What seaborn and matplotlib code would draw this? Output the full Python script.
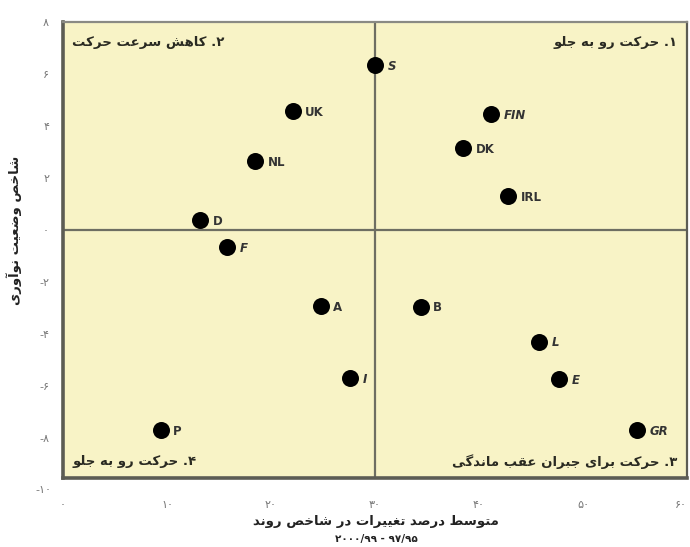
import matplotlib
matplotlib.use('Agg')
import matplotlib.pyplot as plt
import seaborn as sns
import pandas as pd
from matplotlib.transforms import blended_transform_factory

# ---------------- data ----------------
countries = ['S', 'UK', 'FIN', 'NL', 'DK', 'IRL', 'D', 'F', 'A', 'B', 'L', 'I', 'E', 'P', 'GR']
trend_change = [30.0, 22.1, 41.2, 18.5, 38.5, 42.8, 13.2, 15.8, 24.8, 34.4, 45.8, 27.6, 47.7, 9.4, 55.2]
innovation_index = [6.35, 4.58, 4.47, 2.65, 3.14, 1.3, 0.38, -0.65, -2.92, -2.95, -4.3, -5.72, -5.73, -7.7, -7.7]
italic_labels = ['S', 'FIN', 'F', 'I', 'L', 'E', 'GR']

x_ticks = [0, 10, 20, 30, 40, 50, 60]
y_ticks = [8, 6, 4, 2, 0, -2, -4, -6, -8, -10]

quadrant_1 = '۱. حرکت رو به جلو'
quadrant_2 = '۲. کاهش سرعت حرکت'
quadrant_3 = '۳. حرکت برای جبران عقب ماندگی'
quadrant_4 = '۴. حرکت رو به جلو'
x_title = 'متوسط درصد تغییرات در شاخص روند'
x_subtitle = '۲۰۰۰/۹۹ - ۹۷/۹۵'
y_title = 'شاخص وضعیت نوآوری'

# ---------------- Persian shaping helpers ----------------
FORMS = {
    'ا': ('\uFE8D', '\uFE8E', None, None),
    'آ': ('\uFE81', '\uFE82', None, None),
    'ب': ('\uFE8F', '\uFE90', '\uFE91', '\uFE92'),
    'پ': ('\uFB56', '\uFB57', '\uFB58', '\uFB59'),
    'ت': ('\uFE95', '\uFE96', '\uFE97', '\uFE98'),
    'ث': ('\uFE99', '\uFE9A', '\uFE9B', '\uFE9C'),
    'ج': ('\uFE9D', '\uFE9E', '\uFE9F', '\uFEA0'),
    'چ': ('\uFB7A', '\uFB7B', '\uFB7C', '\uFB7D'),
    'ح': ('\uFEA1', '\uFEA2', '\uFEA3', '\uFEA4'),
    'خ': ('\uFEA5', '\uFEA6', '\uFEA7', '\uFEA8'),
    'د': ('\uFEA9', '\uFEAA', None, None),
    'ذ': ('\uFEAB', '\uFEAC', None, None),
    'ر': ('\uFEAD', '\uFEAE', None, None),
    'ز': ('\uFEAF', '\uFEB0', None, None),
    'ژ': ('\uFB8A', '\uFB8B', None, None),
    'س': ('\uFEB1', '\uFEB2', '\uFEB3', '\uFEB4'),
    'ش': ('\uFEB5', '\uFEB6', '\uFEB7', '\uFEB8'),
    'ص': ('\uFEB9', '\uFEBA', '\uFEBB', '\uFEBC'),
    'ض': ('\uFEBD', '\uFEBE', '\uFEBF', '\uFEC0'),
    'ط': ('\uFEC1', '\uFEC2', '\uFEC3', '\uFEC4'),
    'ظ': ('\uFEC5', '\uFEC6', '\uFEC7', '\uFEC8'),
    'ع': ('\uFEC9', '\uFECA', '\uFECB', '\uFECC'),
    'غ': ('\uFECD', '\uFECE', '\uFECF', '\uFED0'),
    'ف': ('\uFED1', '\uFED2', '\uFED3', '\uFED4'),
    'ق': ('\uFED5', '\uFED6', '\uFED7', '\uFED8'),
    'ک': ('\uFB8E', '\uFB8F', '\uFB90', '\uFB91'),
    'گ': ('\uFB92', '\uFB93', '\uFB94', '\uFB95'),
    'ل': ('\uFEDD', '\uFEDE', '\uFEDF', '\uFEE0'),
    'م': ('\uFEE1', '\uFEE2', '\uFEE3', '\uFEE4'),
    'ن': ('\uFEE5', '\uFEE6', '\uFEE7', '\uFEE8'),
    'ه': ('\uFEE9', '\uFEEA', '\uFEEB', '\uFEEC'),
    'و': ('\uFEED', '\uFEEE', None, None),
    'ی': ('\uFBFC', '\uFBFD', '\uFBFE', '\uFBFF'),
}


def fa(text):
    out = []
    n = len(text)
    for i, ch in enumerate(text):
        if ch not in FORMS:
            out.append(ch)
            continue
        forms = FORMS[ch]
        prev = text[i - 1] if i > 0 else None
        nxt = text[i + 1] if i < n - 1 else None
        join_prev = prev in FORMS and FORMS[prev][2] is not None
        join_next = nxt in FORMS and forms[2] is not None
        if join_prev and join_next:
            f = forms[3]
        elif join_prev:
            f = forms[1]
        elif join_next:
            f = forms[2]
        else:
            f = forms[0]
        out.append(f)
    return ''.join(reversed(out))


FA_DIGITS = str.maketrans('0123456789', '۰۱۲۳۴۵۶۷۸۹')


def fa_num(v):
    return str(v).translate(FA_DIGITS)


# ---------------- plot ----------------
sns.set_style('white')
plt.rcParams['font.family'] = ['DejaVu Sans']

df = pd.DataFrame({'country': countries, 'x': trend_change, 'y': innovation_index})

fig = plt.figure(figsize=(6.9, 5.47), dpi=100)
ax = fig.add_axes([63 / 690, 1 - 478 / 547, 624 / 690, 456 / 547])
ax.set_facecolor('#F8F3C6')

ax.axvline(30, color='#6e6e62', lw=1.6, zorder=1)
ax.axhline(0, color='#6e6e62', lw=1.6, zorder=1)

sns.scatterplot(data=df, x='x', y='y', ax=ax, s=150, color='black',
                edgecolor='black', linewidth=0, zorder=3, legend=False)

for _, r in df.iterrows():
    ax.annotate(r['country'], (r['x'], r['y']), xytext=(9, -1), textcoords='offset points',
                ha='left', va='center', fontsize=8.5, fontweight='bold', color='#333333',
                fontstyle='italic' if r['country'] in italic_labels else 'normal', zorder=4)

ax.set_xlim(0, 60)
ax.set_ylim(-9.55, 8)

ax.set_xticks(x_ticks)
xl = ax.set_xticklabels([fa_num(t) for t in x_ticks])
xl[-1].set_horizontalalignment('right')
vis_y = [t for t in y_ticks if t >= -9.55]
ax.set_yticks(vis_y)
ax.set_yticklabels([fa_num(t) for t in vis_y])
ax.tick_params(axis='x', length=0, pad=16, labelsize=8, labelcolor='#777777')
ax.tick_params(axis='y', length=0, pad=10, labelsize=8, labelcolor='#777777')
trans = blended_transform_factory(ax.transAxes, ax.transData)
for t in y_ticks:
    if t < -9.55:
        ax.text(-0.018, t, fa_num(t), transform=trans, ha='right', va='center',
                fontsize=8, color='#777777', clip_on=False)

ax.set_xlabel('')
ax.set_ylabel('')

for side, sp in ax.spines.items():
    sp.set_visible(True)
    sp.set_color('#5c5c54')
    sp.set_linewidth(2.6 if side in ('left', 'bottom') else 1.6)
ax.spines['top'].set_color('#8a8a84')

qkw = dict(fontsize=9.5, fontweight='bold', color='#2a2a22')
ax.text(0.015, 0.955, fa(quadrant_2), transform=ax.transAxes, ha='left', va='center', **qkw)
ax.text(0.985, 0.955, fa(quadrant_1), transform=ax.transAxes, ha='right', va='center', **qkw)
ax.text(0.015, 0.037, fa(quadrant_4), transform=ax.transAxes, ha='left', va='center', **qkw)
ax.text(0.985, 0.037, fa(quadrant_3), transform=ax.transAxes, ha='right', va='center', **qkw)

fig.text(376 / 690, 1 - 522 / 547, fa(x_title), ha='center', va='center',
         fontsize=9.5, fontweight='bold', color='#222222')
fig.text(376 / 690, 1 - 539 / 547, x_subtitle, ha='center', va='center',
         fontsize=7.5, fontweight='bold', color='#222222')
fig.text(14 / 690, 1 - 230 / 547, fa(y_title), ha='center', va='center', rotation=90,
         fontsize=9.5, fontweight='bold', color='#222222')

fig.savefig('out.png', dpi=100, facecolor='white')
